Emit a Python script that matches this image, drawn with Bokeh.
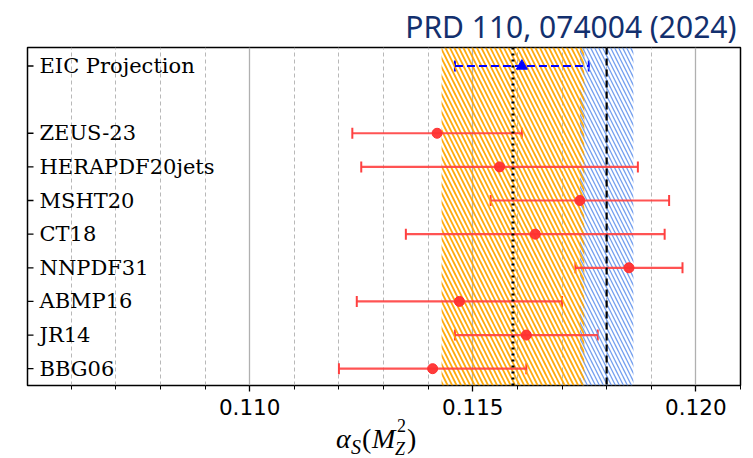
import numpy as np
from bokeh.plotting import figure
from bokeh.layouts import column
from bokeh.models import (ColumnDataSource, Whisker, TeeHead, Span, Div,
                          FixedTicker, Range1d)
from bokeh.embed import file_html
from bokeh.resources import INLINE
from bokeh.core.properties import value

# ---- data ----
names = ["BBG06", "JR14", "ABMP16", "NNPDF31", "CT18", "MSHT20", "HERAPDF20jets", "ZEUS-23"]
rows = [0, 1, 2, 3, 4, 5, 6, 7]
central = [0.1141, 0.1162, 0.1147, 0.1185, 0.1164, 0.1174, 0.1156, 0.1142]
errors = [0.0021, 0.0016, 0.0023, 0.0012, 0.0029, 0.0020, 0.0031, 0.0019]

eic_names = ["EIC Projection"]
eic_rows = [9]
eic_central = [0.1161]
eic_errors = [0.0015]

orange_band = [0.1143, 0.1175]
blue_band = [0.1174, 0.1186]
dotted_value = 0.1159
dashed_value = 0.1180

x_lo, x_hi = 0.10502, 0.1210
y_lo, y_hi = -0.5, 9.55
major_ticks = [0.110, 0.115, 0.120]
minor_ticks = [0.106, 0.107, 0.108, 0.109, 0.111, 0.112, 0.113, 0.114,
               0.116, 0.117, 0.118, 0.119, 0.121]
tick_labels = {0.110: "0.110", 0.115: "0.115", 0.120: "0.120"}
title_text = "PRD 110, 074004 (2024)"

# ---- figure ----
p = figure(width=753, height=420, output_backend="svg", toolbar_location=None,
           x_range=Range1d(x_lo, x_hi), y_range=Range1d(y_lo, y_hi),
           min_border_left=27, min_border_right=13, min_border_top=47,
           min_border_bottom=35, margin=0)
p.background_fill_color = "white"
p.border_fill_color = "white"
p.outline_line_color = "black"
p.outline_line_width = 1.5

# title
p.title.text = title_text
p.title.align = "right"
p.title.text_font = "Noto Sans"
p.title.text_font_style = "normal"
p.title.text_font_size = "30px"
p.title.text_color = "#13306e"
p.title.offset = 4
p.title.standoff = 2

# grid
p.xgrid.ticker = FixedTicker(ticks=major_ticks, minor_ticks=minor_ticks)
p.xgrid.grid_line_color = "#b0b0b0"
p.xgrid.grid_line_width = 1.3
p.xgrid.minor_grid_line_color = "#b8b8b8"
p.xgrid.minor_grid_line_dash = "4 3"
p.xgrid.minor_grid_line_width = 1
p.ygrid.grid_line_color = None

# x axis
p.xaxis.ticker = FixedTicker(ticks=major_ticks, minor_ticks=minor_ticks)
p.xaxis.major_label_overrides = tick_labels
p.xaxis.major_label_text_font = "DejaVu Sans"
p.xaxis.major_label_text_font_size = "21.5px"
p.xaxis.major_label_text_color = "black"
p.xaxis.major_tick_out = 6
p.xaxis.major_tick_in = 0
p.xaxis.minor_tick_out = 4
p.xaxis.minor_tick_in = 0
p.xaxis.major_tick_line_width = 1.3
p.xaxis.minor_tick_line_width = 1
p.xaxis.axis_line_color = None
p.xaxis.major_label_standoff = 7

# y axis hidden; inward ticks drawn as dash markers at the frame edge
p.yaxis.visible = False

# bands (hatched, no fill)
p.quad(left=[blue_band[0]], right=[blue_band[1]], bottom=[y_lo], top=[y_hi],
       fill_alpha=0, line_color=None, hatch_pattern="\\", hatch_color="#6495ED",
       hatch_scale=8, hatch_weight=1.3, hatch_alpha=0.9)
p.quad(left=[orange_band[0]], right=[orange_band[1]], bottom=[y_lo], top=[y_hi],
       fill_alpha=0, line_color=None, hatch_pattern="\\", hatch_color="#FFA500",
       hatch_scale=9, hatch_weight=1.8, hatch_alpha=0.95)

# reference lines
p.add_layout(Span(location=dotted_value, dimension="height", line_color="black",
                  line_width=3, line_dash="2 4"))
p.add_layout(Span(location=dashed_value, dimension="height", line_color="black",
                  line_width=2.2, line_dash="7 4"))

# red determinations
lo = [c - e for c, e in zip(central, errors)]
hi = [c + e for c, e in zip(central, errors)]
src = ColumnDataSource(dict(y=rows, x=central, lo=lo, hi=hi))
p.segment(x0="lo", x1="hi", y0="y", y1="y", source=src, line_color="#ff4040",
          line_width=2.2, line_alpha=0.9)
w = Whisker(base="y", lower="lo", upper="hi", dimension="width", source=src,
            line_color="#ff4040", line_width=2.2, line_alpha=0.0,
            lower_head=TeeHead(size=11, line_color="#ff4040", line_width=2),
            upper_head=TeeHead(size=11, line_color="#ff4040", line_width=2))
p.add_layout(w)
p.scatter(x="x", y="y", source=src, size=10, fill_color="#ff3030",
          line_color="#ff3030", fill_alpha=0.95)

# EIC projection
elo = [c - e for c, e in zip(eic_central, eic_errors)]
ehi = [c + e for c, e in zip(eic_central, eic_errors)]
esrc = ColumnDataSource(dict(y=eic_rows, x=eic_central, lo=elo, hi=ehi))
p.segment(x0="lo", x1="hi", y0="y", y1="y", source=esrc, line_color="blue",
          line_width=2.2, line_dash="8 4")
we = Whisker(base="y", lower="lo", upper="hi", dimension="width", source=esrc,
             line_alpha=0.0,
             lower_head=TeeHead(size=11, line_color="blue", line_width=2),
             upper_head=TeeHead(size=11, line_color="blue", line_width=2))
p.add_layout(we)
p.scatter(x="x", y="y", source=esrc, marker="triangle", size=11,
          fill_color="blue", line_color="blue")

# y labels and inward ticks inside the frame
all_rows = rows + eic_rows
lab_src = ColumnDataSource(dict(y=all_rows, x=[x_lo] * len(all_rows),
                                t=names + eic_names))
p.scatter(x="x", y="y", source=lab_src, marker="dash", size=12,
          line_color="black", line_width=1.3)
p.text(x="x", y="y", text="t", source=lab_src, x_offset=12,
       text_font=value("DejaVu Serif"), text_font_size="21px",
       text_baseline="middle", text_align="left", text_color="black")

# x axis label alpha_S(M_Z^2) as HTML text, pieces placed absolutely
def piece(txt, left, top, size, italic):
    style = ("position:absolute;left:%dpx;top:%dpx;font-size:%dpx;line-height:%dpx;"
             "font-style:%s;white-space:nowrap;") % (left, top, size, size,
                                                     "italic" if italic else "normal")
    return '<span style="%s">%s</span>' % (style, txt)

xlabel_html = (
    '<div style="position:relative;width:753px;height:38px;overflow:visible;'
    'font-family:\'Liberation Serif\',serif;color:black;">'
    + piece("&alpha;", 336, 5, 28, True)
    + piece("S", 351, 17, 20, True)
    + piece("(", 362, 5, 28, False)
    + piece("M", 372, 5, 28, True)
    + piece("2", 397, -3, 18, False)
    + piece("Z", 395, 20, 18, True)
    + piece(")", 407, 5, 28, False)
    + '</div>'
)
xlabel = Div(text=xlabel_html, width=753, height=38, margin=0,
             styles={"overflow": "visible"})

layout = column(p, xlabel, spacing=0, margin=0)
open("out.html", "w").write(file_html(layout, INLINE))
